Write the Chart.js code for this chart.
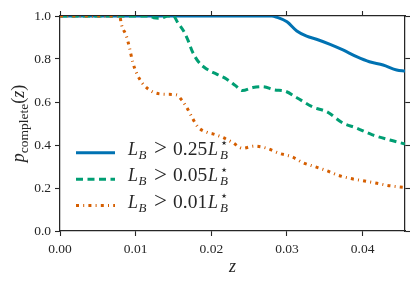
<!DOCTYPE html>
<html>
<head>
<meta charset="utf-8">
<script src="https://cdn.jsdelivr.net/npm/chart.js@4/dist/chart.umd.min.js"></script>
<style>
  html, body { margin: 0; padding: 0; background: #fff; }
  #wrap { width: 415px; height: 286px; }
</style>
</head>
<body>
<div id="wrap"><canvas id="pChart" width="415" height="286"></canvas></div>
<script>
// <==================== data ====================>
const zBlue = [0, 0.0280, 0.0286, 0.0300, 0.0313, 0.0326, 0.0339, 0.0357, 0.0374, 0.0392, 0.0409, 0.0427, 0.0445, 0.0456];
const pBlue = [1.0, 1.0, 0.995, 0.973, 0.930, 0.906, 0.892, 0.868, 0.842, 0.811, 0.787, 0.772, 0.749, 0.744];

const zGreen = [0, 0.0118, 0.0124, 0.0130, 0.0136, 0.0142, 0.0150, 0.0155, 0.0165, 0.0170, 0.0175, 0.0183, 0.0194, 0.0207, 0.0220, 0.0232, 0.0241, 0.0255, 0.0268, 0.0284, 0.0297, 0.0313, 0.0334, 0.0353, 0.0374, 0.0392, 0.0413, 0.0436, 0.0456];
const pGreen = [1.0, 1.0, 0.992, 0.99, 0.992, 1.0, 1.0, 0.973, 0.92, 0.88, 0.834, 0.787, 0.753, 0.730, 0.707, 0.676, 0.653, 0.667, 0.671, 0.656, 0.651, 0.620, 0.577, 0.554, 0.502, 0.479, 0.447, 0.423, 0.405];

const zOrange = [0, 0.0079, 0.0081, 0.0088, 0.0092, 0.0096, 0.0101, 0.0109, 0.0122, 0.0138, 0.0154, 0.0161, 0.0167, 0.0174, 0.0182, 0.0195, 0.0202, 0.0215, 0.0228, 0.0241, 0.0257, 0.0273, 0.0290, 0.0306, 0.0321, 0.0337, 0.0353, 0.0367, 0.0383, 0.0400, 0.0419, 0.0433, 0.0449, 0.0456];
const pOrange = [1.0, 1.0, 0.963, 0.904, 0.850, 0.787, 0.736, 0.687, 0.648, 0.636, 0.633, 0.609, 0.578, 0.532, 0.485, 0.458, 0.452, 0.435, 0.412, 0.385, 0.395, 0.385, 0.361, 0.346, 0.318, 0.299, 0.280, 0.260, 0.245, 0.234, 0.222, 0.212, 0.205, 0.203];

const seriesCuts = ['0.25', '0.05', '0.01']; // L_B > cut * L_B^star
const xTicks = [0, 0.01, 0.02, 0.03, 0.04];
const yTicks = [0, 0.2, 0.4, 0.6, 0.8, 1.0];

const colors = ['#0072B2', '#009E73', '#D55E00'];
const dashes = [[], [7, 4.5], [3, 4.2, 1, 4.2]];
const ink = '#262626';
const serif = '"Liberation Serif", "DejaVu Serif", serif';

function pairs(xs, ys) {
    return xs.map((x, i) => ({ x: x, y: ys[i] }));
}

// <==================== math-ish text helper ====================>
// pieces: {t, font, dy, x (absolute offset), align}
function drawPieces(ctx, x0, y0, pieces) {
    let x = x0;
    pieces.forEach(p => {
        ctx.font = p.font;
        ctx.textAlign = p.align || 'left';
        if (p.x !== undefined) x = x0 + p.x;
        ctx.fillText(p.t, x, y0 + (p.dy || 0));
        x += ctx.measureText(p.t).width;
    });
    ctx.textAlign = 'left';
    return x - x0;
}

function legendPieces(cut) {
    return [
        { t: 'L', font: 'italic 18px ' + serif, x: 0 },
        { t: 'B', font: 'italic 13px ' + serif, x: 10.5, dy: 4 },
        { t: '>', font: '23px ' + serif, x: 32.5, align: 'center', dy: 0.5 },
        { t: cut, font: '19.5px ' + serif, x: 45 },
        { t: 'L', font: 'italic 18px ' + serif, x: 80 },
        { t: '\u22C6', font: '13px "DejaVu Sans", sans-serif', x: 92, dy: -7.5 },
        { t: 'B', font: 'italic 13px ' + serif, x: 92, dy: 4 }
    ];
}

const textPlugin = {
    id: 'textPlugin',
    afterDraw(chart) {
        const ctx = chart.ctx;
        const area = chart.chartArea;
        ctx.save();
        ctx.fillStyle = ink;
        ctx.textBaseline = 'alphabetic';
        ctx.textAlign = 'left';

        // legend
        const rowsY = [152.7, 179.2, 205.5];
        rowsY.forEach((ly, i) => {
            ctx.save();
            ctx.strokeStyle = colors[i];
            ctx.lineWidth = 3;
            ctx.lineCap = 'butt';
            ctx.setLineDash(dashes[i]);
            ctx.beginPath();
            ctx.moveTo(76, ly);
            ctx.lineTo(115, ly);
            ctx.stroke();
            ctx.restore();
            drawPieces(ctx, 128, ly + 2, legendPieces(seriesCuts[i]));
        });

        // x title
        ctx.font = 'italic 18px ' + serif;
        ctx.textAlign = 'center';
        ctx.fillText('z', (area.left + area.right) / 2, 272);

        // y title (rotated)
        ctx.textAlign = 'left';
        const yPieces = [
            { t: 'p', font: 'italic 18px ' + serif },
            { t: 'complete', font: '13.5px ' + serif, dy: 4 },
            { t: '(', font: '18px ' + serif },
            { t: 'z', font: 'italic 18px ' + serif },
            { t: ')', font: '18px ' + serif }
        ];
        let w = 0;
        yPieces.forEach(p => { ctx.font = p.font; w += ctx.measureText(p.t).width; });
        ctx.translate(24, (area.top + area.bottom) / 2);
        ctx.rotate(-Math.PI / 2);
        drawPieces(ctx, -w / 2, 0, yPieces);
        ctx.restore();
    }
};

// <==================== chart ====================>
function lineSet(xs, ys, i) {
    return {
        data: pairs(xs, ys),
        borderColor: colors[i],
        borderWidth: 3,
        borderDash: dashes[i],
        borderCapStyle: 'butt',
        pointRadius: 0,
        fill: false,
        cubicInterpolationMode: 'monotone',
        order: 3 - i
    };
}

function tickAxis(pos, min, max, values, opts) {
    return Object.assign({
        type: 'linear',
        position: pos,
        min: min,
        max: max,
        afterBuildTicks: s => { s.ticks = values.map(v => ({ value: v })); },
        grid: { drawOnChartArea: false, tickLength: 5, color: ink, tickWidth: 1.1 },
        border: { display: true, color: ink, width: 1.25 },
        ticks: { display: false }
    }, opts || {});
}

const ctx = document.getElementById('pChart').getContext('2d');
new Chart(ctx, {
    type: 'line',
    data: {
        datasets: [
            lineSet(zBlue, pBlue, 0),
            lineSet(zGreen, pGreen, 1),
            lineSet(zOrange, pOrange, 2)
        ]
    },
    options: {
        responsive: false,
        animation: false,
        maintainAspectRatio: false,
        layout: { padding: { top: 11, right: 3, left: 0, bottom: 0 } },
        plugins: { legend: { display: false }, tooltip: { enabled: false } },
        scales: {
            x: tickAxis('bottom', 0, 0.0456, xTicks, {
                ticks: { display: true, color: ink, padding: 5, font: { family: serif, size: 13.5 },
                         callback: v => v.toFixed(2) },
                afterFit: s => { s.height = 55; }
            }),
            x2: tickAxis('top', 0, 0.0456, xTicks, { afterFit: s => { s.height = 5; } }),
            y: tickAxis('left', 0, 1.0, yTicks, {
                ticks: { display: true, color: ink, padding: 4, font: { family: serif, size: 13.5 },
                         callback: v => v.toFixed(1) },
                afterFit: s => { s.width = 60; }
            }),
            y2: tickAxis('right', 0, 1.0, yTicks, { afterFit: s => { s.width = 7; } })
        }
    },
    plugins: [textPlugin]
});
</script>
</body>
</html>
